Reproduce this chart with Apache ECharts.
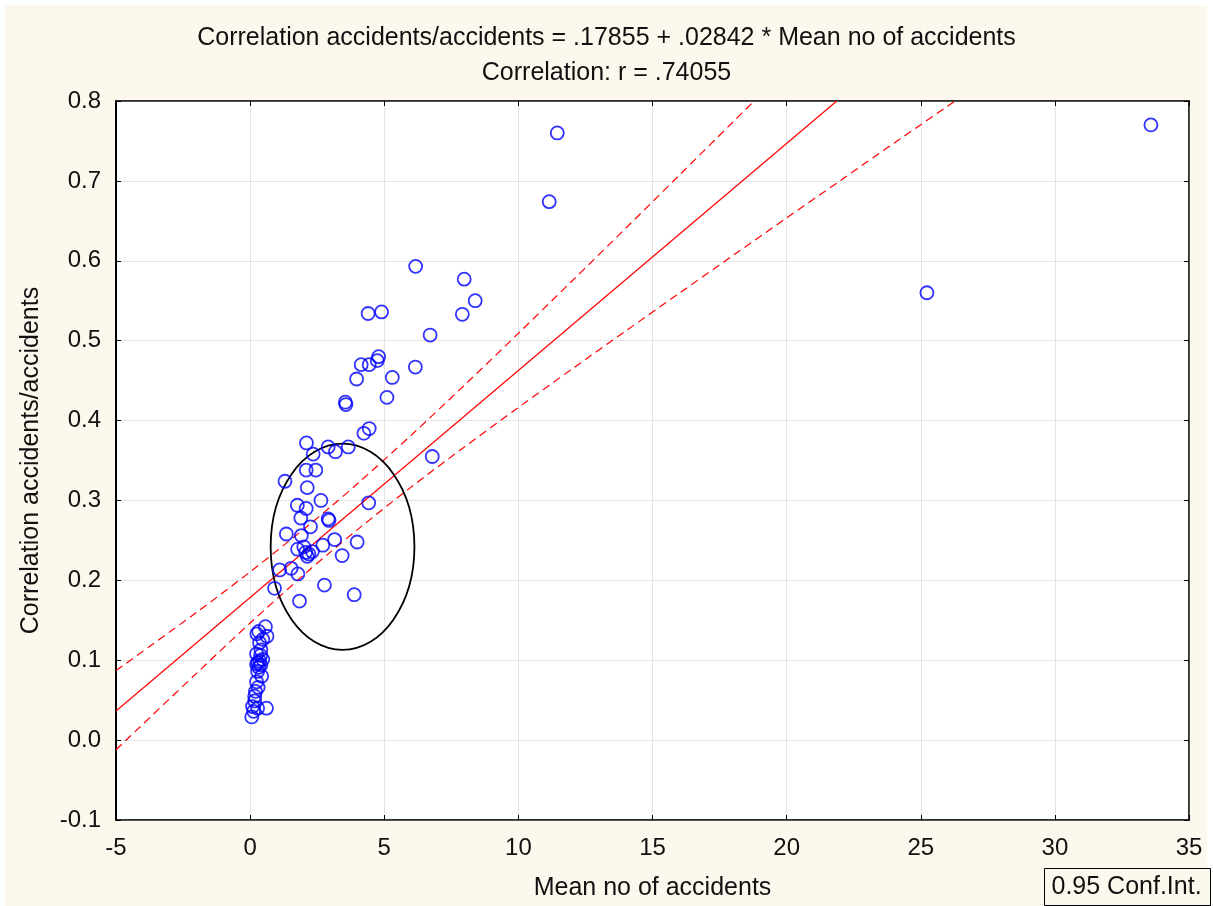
<!DOCTYPE html>
<html>
<head>
<meta charset="utf-8">
<script src="https://cdn.jsdelivr.net/npm/echarts@6/dist/echarts.min.js"></script>
<style>
html,body{margin:0;padding:0;background:#ffffff;}
#chart{width:1213px;height:906px;}
</style>
</head>
<body>
<div id="chart"></div>
<script>
// ---- Data ----
const titleLine1 = 'Correlation accidents/accidents = .17855 + .02842 * Mean no of accidents';
const titleLine2 = 'Correlation: r = .74055';
const xAxisName = 'Mean no of accidents';
const yAxisName = 'Correlation accidents/accidents';
const legendText = '0.95 Conf.Int.';

// Scatter points: mean number of accidents (x) and correlation (y)
const meanAccidents = [
  33.58, 11.45, 11.15, 25.23, 6.17, 7.98, 8.39, 7.91, 4.40, 4.90, 6.71, 6.16,
  4.79, 4.74, 4.44, 4.14, 3.97, 5.30, 5.10, 3.55, 3.57, 4.44, 4.24,
  2.10, 2.91, 3.66, 3.18, 2.35, 6.79, 2.09, 2.45, 1.30, 2.13, 2.64, 4.42,
  1.76, 2.09, 1.89, 2.91, 2.94, 2.25, 1.35, 1.91, 3.15, 3.99, 2.71, 1.77,
  2.00, 2.07, 2.19, 2.32, 2.13, 3.43, 1.10, 1.53, 1.78, 0.91, 2.77, 3.88, 1.84,
  0.57, 0.32, 0.63, 0.25, 0.47, 0.35, 0.40, 0.24, 0.39, 0.47, 0.35, 0.24,
  0.32, 0.28, 0.40, 0.28, 0.43, 0.24, 0.30, 0.20, 0.17, 0.17, 0.09, 0.28,
  0.61, 0.06, 0.13
];
const correlation = [
  0.770, 0.760, 0.674, 0.560, 0.593, 0.577, 0.550, 0.533, 0.534, 0.536, 0.507, 0.467,
  0.480, 0.475, 0.470, 0.470, 0.452, 0.454, 0.429, 0.423, 0.420, 0.390, 0.384,
  0.372, 0.367, 0.367, 0.361, 0.358, 0.355, 0.338, 0.338, 0.324, 0.316, 0.300, 0.297,
  0.294, 0.290, 0.278, 0.277, 0.275, 0.267, 0.258, 0.256, 0.251, 0.248, 0.244, 0.239,
  0.242, 0.235, 0.233, 0.236, 0.230, 0.231, 0.213, 0.215, 0.208, 0.190, 0.194, 0.182, 0.174,
  0.142, 0.136, 0.130, 0.133, 0.126, 0.122, 0.113, 0.108, 0.106, 0.101, 0.099, 0.095,
  0.091, 0.097, 0.094, 0.086, 0.080, 0.073, 0.066, 0.061, 0.055, 0.049, 0.042, 0.040,
  0.040, 0.029, 0.036
];

// Regression line (solid) endpoints
const fitX = [-5, 21.87];
const fitY = [0.0365, 0.8];

// 0.95 confidence band
const upperX = [-5, -2, 0, 2, 3, 4, 6, 8, 10, 12, 14, 16, 18, 18.79];
const upperY = [0.087, 0.1598, 0.2106, 0.2640, 0.2920, 0.3209, 0.3815, 0.4446, 0.5092, 0.5747, 0.6407, 0.7071, 0.7737, 0.8];
const lowerX = [-5, -2, 0, 2, 3, 4, 6, 8, 10, 12, 14, 16, 18, 20, 22, 24, 26.28];
const lowerY = [-0.012, 0.0836, 0.1466, 0.2068, 0.2356, 0.2635, 0.3167, 0.3672, 0.4164, 0.4645, 0.5121, 0.5595, 0.6066, 0.6536, 0.7004, 0.7472, 0.8];

// Ellipse annotation: centre (x, y) and radii (x, y) in data units
const ellipse = [3.445, 0.242, 2.68, 0.129];

// Axis ranges / ticks
const xMin = -5, xMax = 35, xStep = 5;
const yMin = -0.1, yMax = 0.8, yStep = 0.1;

// ---- Build chart ----
const zip = (a, b) => a.map((v, i) => [v, b[i]]);
const chart = echarts.init(document.getElementById('chart'), null, {renderer: 'canvas'});
const FONT = '"Liberation Sans", Arial, Helvetica, sans-serif';
const cream = '#fdf8ee';

const tickCommon = {show: true, inside: true, length: 5, lineStyle: {color: '#000', width: 1}};
const gridLine = {show: true, lineStyle: {color: '#e4e4e4', width: 1}};

const option = {
  animation: false,
  backgroundColor: '#ffffff',
  textStyle: {fontFamily: FONT},
  graphic: [
    {type: 'rect', z: -10, silent: true, shape: {x: 5, y: 5, width: 1202, height: 901},
     style: {fill: cream}},
    {type: 'text', left: 'center', top: 26, silent: true,
     style: {text: titleLine1, font: '25px ' + FONT, fill: '#111'}},
    {type: 'text', left: 'center', top: 61, silent: true,
     style: {text: titleLine2, font: '25px ' + FONT, fill: '#111'}},
    {type: 'group', right: 2, bottom: 0, silent: true, children: [
      {type: 'rect', shape: {x: 0, y: 0, width: 166, height: 37},
       style: {fill: cream, stroke: '#000', lineWidth: 1}},
      {type: 'text', x: 7, y: 6, style: {text: legendText, font: '25px ' + FONT, fill: '#111'}}
    ]}
  ],
  grid: {left: 116, top: 101, right: 24, bottom: 85, show: true,
         backgroundColor: '#ffffff', borderColor: '#222', borderWidth: 1.5},
  xAxis: [
    {type: 'value', min: xMin, max: xMax, interval: xStep, position: 'bottom',
     name: xAxisName, nameLocation: 'middle', nameGap: 56,
     nameTextStyle: {fontSize: 25, color: '#111', fontFamily: FONT},
     axisLine: {show: true, onZero: false, lineStyle: {color: '#222', width: 1.5}},
     axisTick: tickCommon,
     axisLabel: {fontSize: 24, color: '#111', margin: 16, fontFamily: FONT},
     splitLine: gridLine},
    {type: 'value', min: xMin, max: xMax, interval: xStep, position: 'top',
     axisLine: {show: true, onZero: false, lineStyle: {color: '#222', width: 1.5}},
     axisTick: tickCommon, axisLabel: {show: false}, splitLine: {show: false}}
  ],
  yAxis: [
    {type: 'value', min: yMin, max: yMax, interval: yStep, position: 'left',
     name: yAxisName, nameLocation: 'middle', nameGap: 72, nameRotate: 90,
     nameTextStyle: {fontSize: 25, color: '#111', fontFamily: FONT},
     axisLine: {show: true, onZero: false, lineStyle: {color: '#000', width: 2}},
     axisTick: tickCommon,
     axisLabel: {fontSize: 24, color: '#111', margin: 15, fontFamily: FONT,
                 formatter: v => v.toFixed(1)},
     splitLine: gridLine},
    {type: 'value', min: yMin, max: yMax, interval: yStep, position: 'right',
     axisLine: {show: true, onZero: false, lineStyle: {color: '#222', width: 1.5}},
     axisTick: tickCommon, axisLabel: {show: false}, splitLine: {show: false}}
  ],
  series: [
    {type: 'line', data: zip(fitX, fitY), showSymbol: false, silent: true, clip: true,
     lineStyle: {color: '#ff0000', width: 1.2}, z: 3},
    {type: 'line', data: zip(upperX, upperY), showSymbol: false, silent: true, clip: true,
     smooth: 0.3, lineStyle: {color: '#ff0000', width: 1.2, type: [8, 5]}, z: 3},
    {type: 'line', data: zip(lowerX, lowerY), showSymbol: false, silent: true, clip: true,
     smooth: 0.3, lineStyle: {color: '#ff0000', width: 1.2, type: [8, 5]}, z: 3},
    {type: 'custom', silent: true, z: 4,
     encode: {x: 0, y: 1},
     data: [ellipse],
     renderItem: function (params, api) {
       const c = api.coord([api.value(0), api.value(1)]);
       const s = api.size([api.value(2), api.value(3)]);
       return {type: 'ellipse', shape: {cx: c[0], cy: c[1], rx: s[0], ry: s[1]},
               style: {fill: 'none', stroke: '#000', lineWidth: 1.8}};
     }},
    {type: 'scatter', data: zip(meanAccidents, correlation), symbol: 'circle', symbolSize: 13,
     silent: true, z: 5,
     itemStyle: {color: 'rgba(0,0,0,0)', borderColor: '#0000ff', borderWidth: 1.8}}
  ]
};
chart.setOption(option);
</script>
</body>
</html>
